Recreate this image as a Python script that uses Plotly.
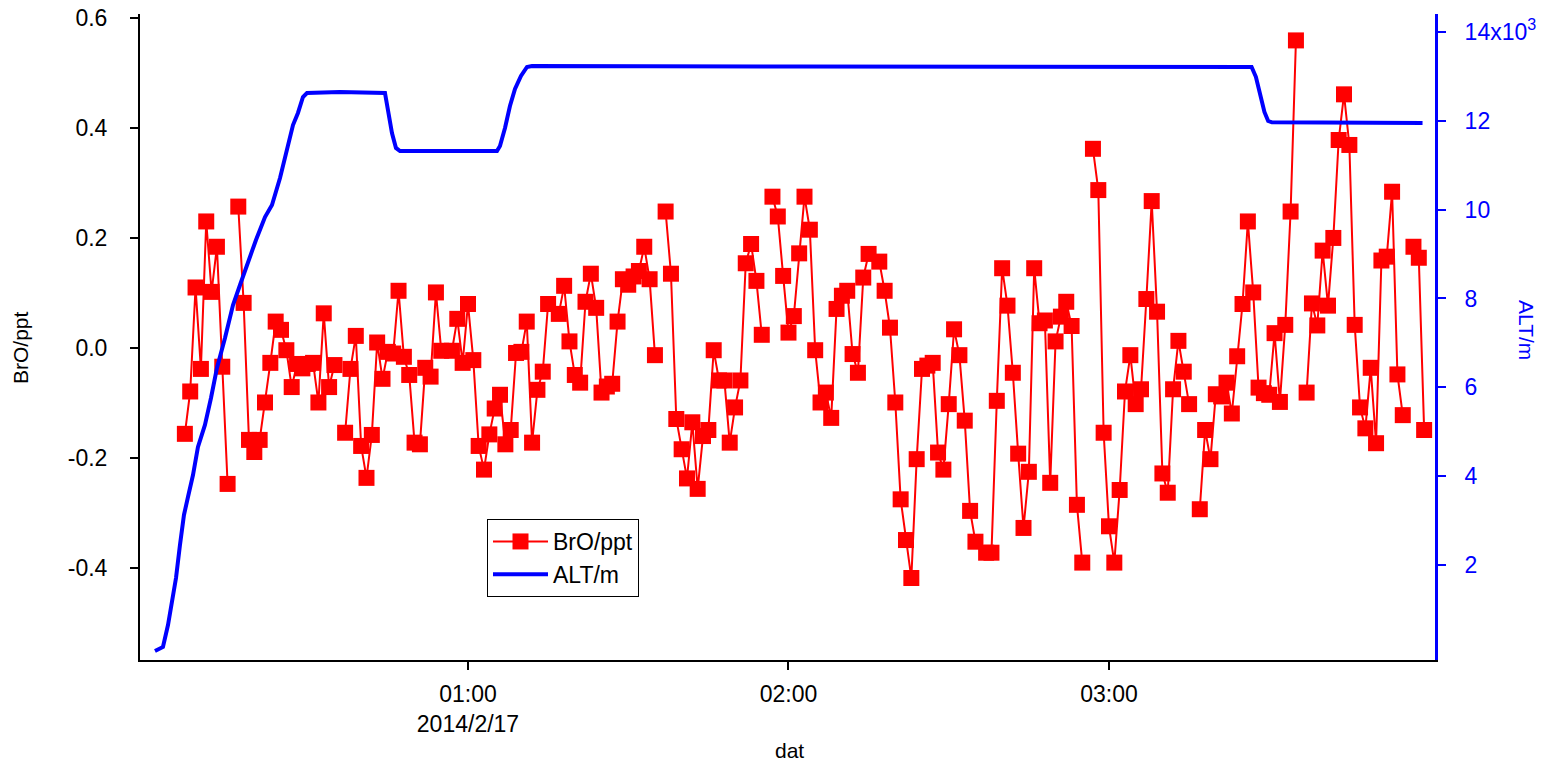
import pandas as pd
import plotly.graph_objects as go

# ---------------- data ----------------
# BrO mixing ratio (ppt), one value per minute starting 00:07 on 2014-02-17
# (None = missing sample, the trace line breaks there)
bro_start = "2014-02-17 00:07:00"
bro_ppt = [
    -0.156, -0.079, 0.110, -0.038, 0.230, 0.102, 0.184, -0.034, -0.247, None,
    0.257, 0.082, -0.167, -0.189, -0.167, -0.099, -0.027, 0.048, 0.033, -0.004,
    -0.071, -0.029, -0.037, -0.029, -0.027, -0.099, 0.063, -0.071, -0.031, None,
    -0.154, -0.038, 0.022, -0.178, -0.236, -0.158, 0.010, -0.056, -0.007, -0.010,
    0.104, -0.016, -0.049, -0.172, -0.175, -0.036, -0.052, 0.101, -0.005, None,
    -0.005, 0.053, -0.027, 0.080, -0.022, -0.178, -0.221, -0.157, -0.110, -0.085,
    -0.175, -0.149, -0.009, -0.007, 0.048, -0.172, -0.076, -0.043, 0.080, None,
    0.062, 0.113, 0.012, -0.049, -0.063, 0.084, 0.135, 0.073, -0.081, -0.070,
    -0.065, 0.048, 0.125, 0.115, 0.130, 0.140, 0.184, 0.125, -0.013, None,
    0.248, 0.135, -0.129, -0.184, -0.237, -0.135, -0.256, -0.160, -0.149, -0.004,
    -0.059, -0.059, -0.172, -0.108, -0.059, 0.154, 0.189, 0.122, 0.024, None,
    0.275, 0.239, 0.131, 0.028, 0.058, 0.172, 0.275, 0.215, -0.004, -0.099,
    -0.081, -0.127, 0.071, 0.095, 0.104, -0.011, -0.045, 0.128, 0.171, None,
    0.157, 0.104, 0.037, -0.099, -0.275, -0.349, -0.418, -0.202, -0.038, -0.032,
    -0.027, -0.190, -0.221, -0.102, 0.034, -0.013, -0.132, -0.296, -0.352, None,
    -0.372, -0.372, -0.096, 0.145, 0.077, -0.045, -0.192, -0.327, -0.225, 0.145,
    0.045, 0.050, -0.245, 0.012, 0.057, 0.084, 0.040, -0.285, -0.390, None,
    0.362, 0.287, -0.154, -0.324, -0.390, -0.258, -0.079, -0.013, -0.102, -0.075,
    0.089, 0.267, 0.066, -0.228, -0.263, -0.075, 0.013, -0.043, -0.102, None,
    -0.293, -0.149, -0.202, -0.084, -0.088, -0.063, -0.119, -0.015, 0.080, 0.230,
    0.101, -0.072, -0.082, -0.085, 0.027, -0.098, 0.042, 0.248, 0.559, None,
    -0.081, 0.081, 0.041, 0.177, 0.077, 0.200, 0.378, 0.461, 0.369, 0.042,
    -0.108, -0.146, -0.036, -0.173, 0.159, 0.166, 0.284, -0.048, -0.122, None,
    0.184, 0.164, -0.149,
]

# Aircraft altitude (m): minutes after 00:00 and altitude
alt_minutes = [
    1.4, 2.9, 3.84, 4.59, 5.34, 6.08, 6.83, 7.58, 8.52, 9.45,
    10.76, 11.89, 13.01, 14.51, 16.01, 17.32, 18.81, 20.31, 22.0, 23.31,
    24.81, 26.12, 27.24, 28.17, 29.11, 29.86, 36.0, 44.46, 45.02, 45.77,
    46.52, 47.27, 65.43, 65.99, 66.93, 67.86, 68.8, 69.92, 71.05, 71.98,
    122.0, 178.0, 206.7, 207.5, 208.3, 209.1, 209.8, 210.5, 238.7,
]
alt_m = [
    64, 154, 649, 1212, 1707, 2450, 3126, 3531, 4026, 4656,
    5152, 5760, 6435, 7110, 7853, 8303, 8821, 9317, 9834, 10104,
    10712, 11388, 11905, 12176, 12536, 12626, 12648, 12626, 12243, 11725,
    11388, 11320, 11320, 11433, 11838, 12333, 12716, 13009, 13211, 13234,
    13223, 13211, 13211, 12990, 12600, 12200, 11995, 11965, 11950,
]

x_tickvals = ["2014-02-17 01:00:00", "2014-02-17 02:00:00", "2014-02-17 03:00:00"]
x_ticktext = ["01:00<br>2014/2/17", "02:00", "03:00"]
y_tickvals = [-0.4, -0.2, 0.0, 0.2, 0.4, 0.6]
y_ticktext = ["-0.4", "-0.2", "0.0", "0.2", "0.4", "0.6"]
y2_tickvals = [2000, 4000, 6000, 8000, 10000, 12000, 14000]
y2_ticktext = ["2", "4", "6", "8", "10", "12", "14x10<sup>3</sup>"]

# ---------------- figure ----------------
bro_time = pd.date_range(bro_start, periods=len(bro_ppt), freq="1min")
base = pd.Timestamp("2014-02-17 00:00:00")
alt_time = base + pd.to_timedelta(alt_minutes, unit="min")

FONT = "Liberation Sans, Arial, sans-serif"
RED = "#FF0000"
BLUE = "#0000FF"
TICK_SIZE = 23
TITLE_SIZE = 21

fig = go.Figure()
fig.add_trace(go.Scatter(
    x=bro_time, y=bro_ppt, name="BrO/ppt", mode="lines+markers",
    line=dict(color=RED, width=2),
    marker=dict(symbol="square", size=16, color=RED, line=dict(width=0)),
    connectgaps=False, yaxis="y",
))
fig.add_trace(go.Scatter(
    x=alt_time, y=alt_m, name="ALT/m", mode="lines",
    line=dict(color=BLUE, width=4), yaxis="y2",
))

L, R, T, B = 140, 111, 14, 105
W, H = 1546, 765
pw, ph = W - L - R, H - T - B

def px(xp):
    return (xp - L) / pw

def py(yp):
    return (H - B - yp) / ph

fig.update_layout(
    width=W, height=H,
    margin=dict(l=L, r=R, t=T, b=B, pad=0, autoexpand=False),
    paper_bgcolor="white", plot_bgcolor="white",
    font=dict(family=FONT, size=TICK_SIZE, color="black"),
    showlegend=True,
    legend=dict(
        x=px(487), y=py(519), xanchor="left", yanchor="top",
        bordercolor="black", borderwidth=1, bgcolor="white",
        font=dict(family=FONT, size=TICK_SIZE, color="black"),
        itemwidth=55, tracegroupgap=0,
    ),
    xaxis=dict(
        type="date", automargin=False,
        range=["2014-02-16 23:58:36", "2014-02-17 04:01:02"],
        tickvals=x_tickvals, ticktext=x_ticktext,
        showgrid=False, zeroline=False,
        showline=True, linecolor="black", linewidth=2,
        ticks="outside", ticklen=8, tickwidth=2, tickcolor="black",
        ticklabelstandoff=4,
        tickfont=dict(family=FONT, size=TICK_SIZE, color="black"),
    ),
    yaxis=dict(
        automargin=False,
        range=[-0.567, 0.607],
        tickvals=y_tickvals, ticktext=y_ticktext,
        showgrid=False, zeroline=False,
        showline=True, linecolor="black", linewidth=2,
        ticks="outside", ticklen=8, tickwidth=2, tickcolor="black",
        ticklabelstandoff=18,
        tickfont=dict(family=FONT, size=TICK_SIZE, color="black"),
    ),
    yaxis2=dict(
        overlaying="y", side="right", automargin=False,
        range=[-139, 14404],
        tickvals=y2_tickvals, ticktext=y2_ticktext,
        showgrid=False, zeroline=False,
        showline=True, linecolor=BLUE, linewidth=3,
        ticks="outside", ticklen=8, tickwidth=2, tickcolor=BLUE,
        ticklabelstandoff=14,
        tickfont=dict(family=FONT, size=TICK_SIZE, color=BLUE),
    ),
    annotations=[
        dict(text="dat", xref="paper", yref="paper", x=px(789), y=py(750),
             xanchor="center", yanchor="middle", showarrow=False,
             font=dict(family=FONT, size=TITLE_SIZE, color="black")),
        dict(text="BrO/ppt", xref="paper", yref="paper", x=px(20), y=py(348),
             xanchor="center", yanchor="middle", showarrow=False, textangle=-90,
             font=dict(family=FONT, size=TITLE_SIZE, color="black")),
        dict(text="ALT/m", xref="paper", yref="paper", x=px(1527), y=py(330),
             xanchor="center", yanchor="middle", showarrow=False, textangle=90,
             font=dict(family=FONT, size=TITLE_SIZE, color=BLUE)),
    ],
)

fig.write_html(
    "out.html",
    config={"displayModeBar": False},
    post_script="document.body.style.margin='0px';document.body.style.overflow='hidden';",
)
